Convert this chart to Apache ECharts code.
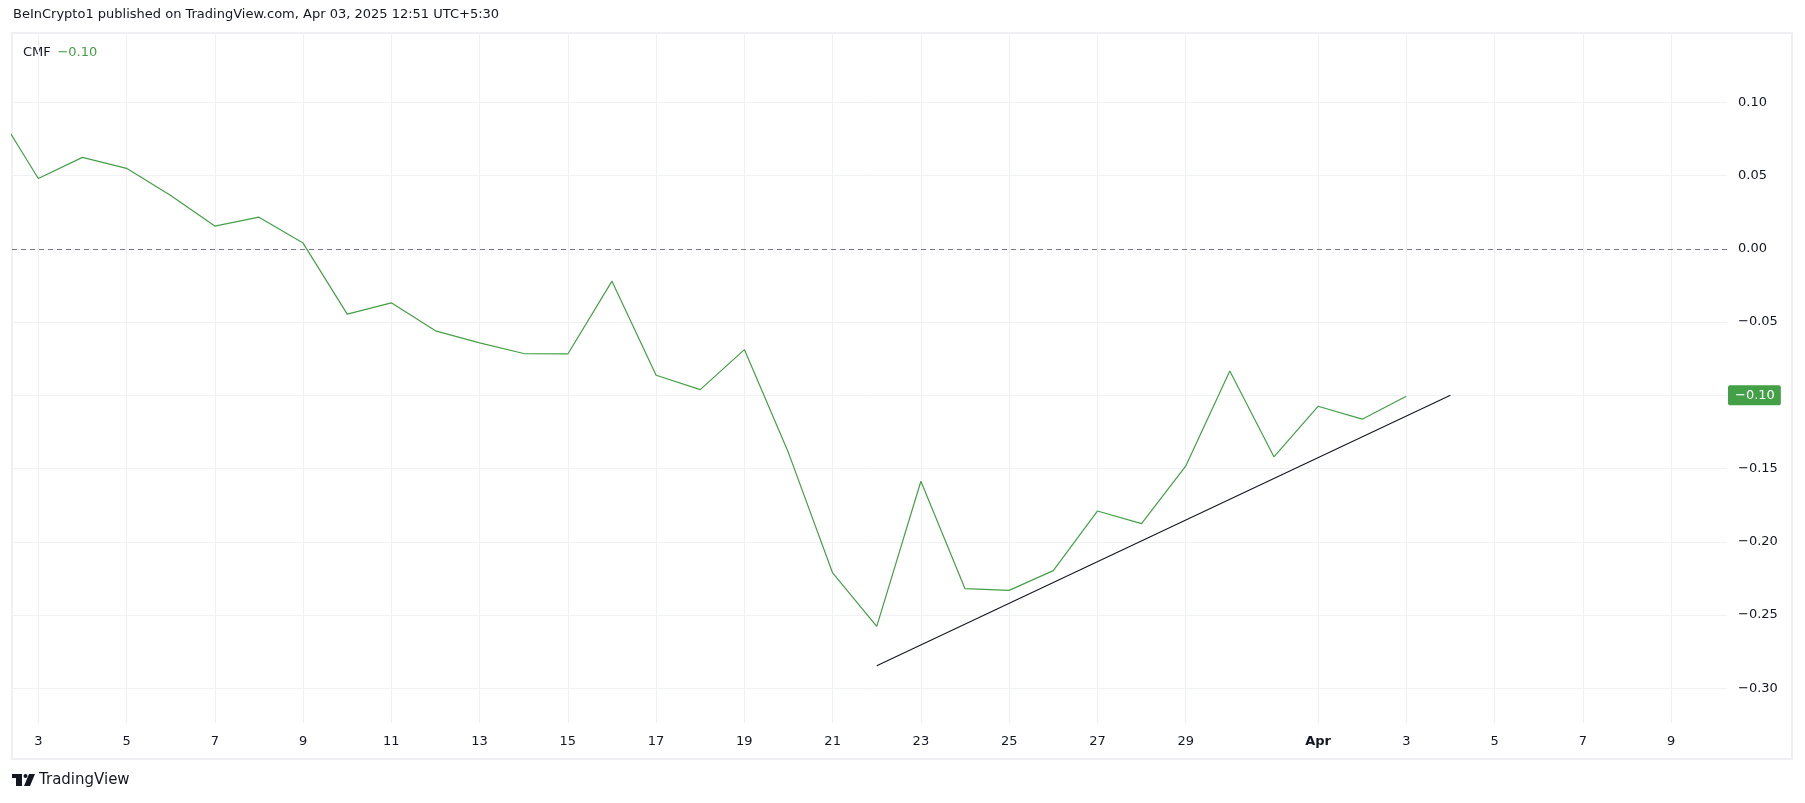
<!DOCTYPE html>
<html><head><meta charset="utf-8">
<script src="https://cdn.jsdelivr.net/npm/echarts@6/dist/echarts.min.js"></script>
<style>html,body{margin:0;padding:0;background:#fff;}#c{width:1805px;height:803px;}</style>
</head><body><div id="c"></div>
<script>
// Day index: March d -> d, April d -> 31 + d
const days = [2,3,4,5,6,7,8,9,10,11,12,13,14,15,16,17,18,19,20,21,22,23,24,25,26,27,28,29,30,31,32,33,34];
const cmfValues = [0.097,0.048,0.0624,0.0549,0.0364,0.0155,0.0216,0.0039,-0.0446,-0.0369,-0.0560,-0.0642,-0.0715,-0.0718,-0.0221,-0.0863,-0.0961,-0.0688,-0.1393,-0.2213,-0.2577,-0.1587,-0.2320,-0.2332,-0.2197,-0.1790,-0.1876,-0.1484,-0.0834,-0.1420,-0.1075,-0.1163,-0.1007];
const trendDays = [22, 35];
const trendValues = [-0.2846, -0.100];
const yTicks = [-0.30,-0.25,-0.20,-0.15,-0.10,-0.05,0.00,0.05,0.10];
const xTicks = [3,5,7,9,11,13,15,17,19,21,23,25,27,29,32,34,36,38,40];
const xTickLabels = ['3','5','7','9','11','13','15','17','19','21','23','25','27','29','Apr','3','5','7','9'];
const headerText = 'BeInCrypto1 published on TradingView.com, Apr 03, 2025 12:51 UTC+5:30';
const indicatorName = 'CMF';

const FONT = '"DejaVu Sans", Verdana, sans-serif';
const TXT = '#131722';
const GREEN = '#43a047';
const GRID = '#f0f1f4';
const fmt = v => v.toFixed(2).replace('-', '\u2212');
const lastValue = Math.round(cmfValues[cmfValues.length-1]*100)/100;

const chart = echarts.init(document.getElementById('c'), null, {renderer:'canvas'});
chart.setOption({
  animation: false,
  backgroundColor: '#ffffff',
  textStyle: {fontFamily: FONT},
  grid: {left: 12, right: 78, top: 33, bottom: 80, containLabel: false, outerBoundsMode: 'none'},
  xAxis: {
    type: 'value', min: 2.404, max: 41.267,
    axisLine: {show: false},
    axisTick: {show: false, customValues: xTicks},
    splitLine: {show: true, lineStyle: {color: GRID, width: 1}},
    axisLabel: {
      customValues: xTicks, margin: 12, color: TXT, fontSize: 13, fontFamily: FONT, lineHeight: 14,
      formatter: v => { const i = xTicks.indexOf(v); const t = i >= 0 ? xTickLabels[i] : ''; return t === 'Apr' ? '{b|Apr}' : t; },
      rich: {b: {fontWeight: 'bold', color: TXT, fontSize: 13, fontFamily: FONT}}
    }
  },
  yAxis: [{
    type: 'value', position: 'right', min: -0.3237, max: 0.1473,
    axisLine: {show: false},
    axisTick: {show: false, customValues: yTicks},
    splitLine: {show: true, lineStyle: {color: GRID, width: 1}},
    axisLabel: {customValues: yTicks, margin: 11, color: TXT, fontSize: 13, fontFamily: FONT, formatter: v => fmt(v)}
  }, {
    type: 'value', position: 'right', min: -0.3237, max: 0.1473,
    axisLine: {show: false},
    axisTick: {show: false, customValues: [lastValue]},
    splitLine: {show: false},
    axisLabel: {customValues: [lastValue], margin: 1, color: '#ffffff', fontSize: 13, fontFamily: FONT,
      backgroundColor: GREEN, padding: [3, 6, 3, 7], lineHeight: 14, borderRadius: 2,
      formatter: v => fmt(v)}
  }],
  series: [{
    type: 'line', name: indicatorName, data: days.map((d, i) => [d, cmfValues[i]]),
    showSymbol: false, symbol: 'none', clip: true,
    lineStyle: {color: GREEN, width: 1.2}, z: 3,
    markLine: {
      silent: true, symbol: 'none', label: {show: false},
      lineStyle: {color: '#787b86', type: [5, 4], width: 1},
      data: [{yAxis: 0}]
    }
  }, {
    type: 'line', data: trendDays.map((d, i) => [d, trendValues[i]]),
    showSymbol: false, symbol: 'none', lineStyle: {color: '#131722', width: 1.1}, z: 4
  }],
  graphic: [
    {type: 'rect', shape: {x: 12, y: 33, width: 1780, height: 726}, style: {fill: 'none', stroke: '#eef0f3', lineWidth: 2}, z: 0, silent: true},
    {type: 'text', x: 13, y: 15, style: {text: headerText, fill: TXT, font: '13px ' + FONT, textVerticalAlign: 'middle'}},
    {type: 'text', x: 23, y: 53, style: {
      text: '{a|' + indicatorName + '}  {b|' + fmt(lastValue) + '}', textVerticalAlign: 'middle',
      rich: {a: {fill: TXT, fontSize: 13, fontFamily: FONT}, b: {fill: GREEN, fontSize: 13, fontFamily: FONT}}
    }},
    {type: 'group', children: [
      {type: 'rect', shape: {x: 12, y: 774, width: 10, height: 4}, style: {fill: TXT}},
      {type: 'rect', shape: {x: 16, y: 774, width: 6, height: 12}, style: {fill: TXT}},
      {type: 'circle', shape: {cx: 25.5, cy: 776, r: 2}, style: {fill: TXT}},
      {type: 'polygon', shape: {points: [[29, 774], [35, 774], [30, 786], [24, 786]]}, style: {fill: TXT}},
      {type: 'text', x: 39, y: 780, style: {text: 'TradingView', fill: TXT, font: '15px ' + FONT, textVerticalAlign: 'middle'}}
    ]}
  ]
});
</script></body></html>
